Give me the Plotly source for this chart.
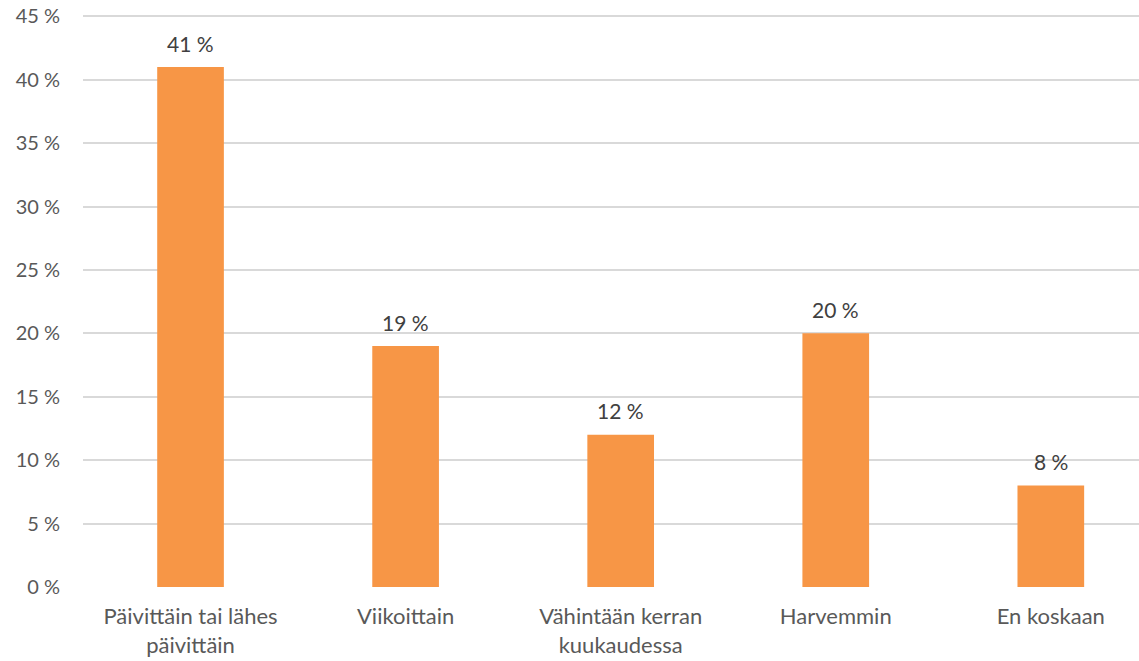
import plotly.graph_objects as go

categories = ["Päivittäin tai lähes<br>päivittäin", "Viikoittain", "Vähintään kerran<br>kuukaudessa", "Harvemmin", "En koskaan"]
values = [41, 19, 12, 20, 8]
labels = [f"{v} %" for v in values]
y_ticks = [0, 5, 10, 15, 20, 25, 30, 35, 40, 45]
y_ticktext = [f"{t} %" for t in y_ticks]

fig = go.Figure(go.Bar(
    x=categories, y=values,
    marker=dict(color="#F79646", line=dict(width=0)),
    width=0.31,
    hoverinfo="x+y",
))

for c, v, t in zip(categories, values, labels):
    fig.add_annotation(x=c, y=v, text=t, showarrow=False, yshift=24,
                       yanchor="middle", xanchor="center",
                       font=dict(family="Lato", size=21, color="#404040"))

fig.update_layout(
    width=1139, height=661,
    margin=dict(l=83, r=0, t=10, b=74, autoexpand=False),
    plot_bgcolor="white", paper_bgcolor="white",
    showlegend=False,
    font=dict(family="Lato", size=20, color="#595959"),
)
fig.update_yaxes(range=[0, 45.5], tickmode="array", tickvals=y_ticks, ticktext=y_ticktext,
                 showgrid=True, gridcolor="#D9D9D9", gridwidth=2, zeroline=False,
                 ticklabeloverflow="allow", automargin=False,
                 ticklabelstandoff=22, tickfont=dict(size=20, color="#595959"))
fig.update_xaxes(range=[-0.5, 4.41], showgrid=False, showline=False, automargin=False,
                 tickfont=dict(size=22, color="#595959"), ticklabelstandoff=14)

fig.write_html("out.html", config={"displayModeBar": False},
               post_script="document.body.style.margin='0';")
